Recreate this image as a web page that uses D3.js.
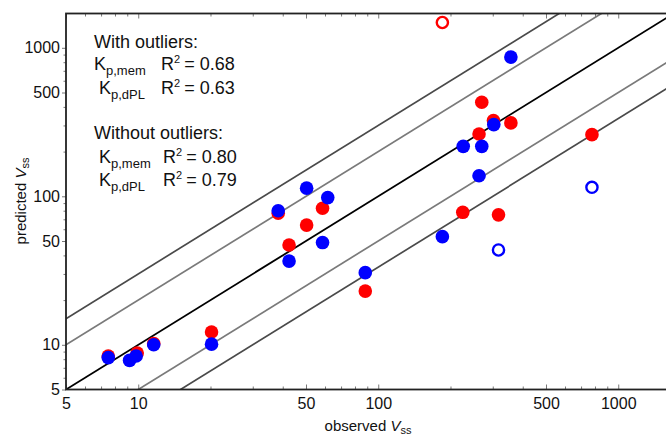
<!DOCTYPE html>
<html><head><meta charset="utf-8">
<script src="https://cdn.jsdelivr.net/npm/d3@7"></script>
<style>
body{margin:0;background:#fff}
svg{display:block}
text{font-family:"Liberation Sans",Arial,Helvetica,sans-serif;fill:#111}
</style>
</head><body>
<svg id="chart" width="666" height="437"></svg>
<script>
// ---- data ----
// Kp,mem predictions (red)
const memObserved  = [7.5, 9.9, 11.6, 20.2, 38.3, 42.5, 50.3, 58.6, 88.3, 185, 225, 263, 270, 302, 317, 357, 777];
const memPredicted = [8.4, 8.8, 10.2, 12.2, 77, 47, 64, 83, 23, 1480, 78, 263, 430, 324, 75, 312, 260];
const memOutlier   = [0,0,0,0,0,0,0,0,0,1,0,0,0,0,0,0,0];
// Kp,dPL predictions (blue)
const dplObserved  = [7.5, 9.2, 9.8, 11.6, 20.2, 38.3, 42.5, 50.3, 58.6, 61.6, 88.3, 185, 226, 263, 270, 303, 317, 357, 777];
const dplPredicted = [8.2, 7.85, 8.4, 10.0, 10.1, 80, 36.6, 113.5, 48.8, 98, 30.6, 53.5, 217, 137.5, 217, 304, 43.5, 866, 115];
const dplOutlier   = [0,0,0,0,0,0,0,0,0,0,0,0,0,0,0,0,1,0,1];
// reference lines: predicted = k * observed
const foldFactors = [3, 2, 1, 1/2, 1/3];
const axisDomain = [5, 1700];
const majorTicks = [5, 10, 50, 100, 500, 1000];
const annotationHeads = ["With outliers:", "Without outliers:"];
const annotationModels = ["p,mem", "p,dPL"];
const r2With = ["0.68", "0.63"];
const r2Without = ["0.80", "0.79"];

// ---- layout ----
const svg = d3.select("#chart");
const L = 66, T = 13.5, B = 389.5;
const xDec = 240, yDec = 148.5;
const span = Math.log10(axisDomain[1] / axisDomain[0]);
const R = L + xDec * span;

const x = d3.scaleLog().domain(axisDomain).range([L, R]);
const y = d3.scaleLog().domain(axisDomain).range([B, B - yDec * span]);

svg.append("defs").append("clipPath").attr("id", "clip")
  .append("rect").attr("x", L).attr("y", T).attr("width", R - L).attr("height", B - T);

// reference lines
const lineColor = k => k === 1 ? "#000" : (Math.abs(k - 2) < 1e-9 || Math.abs(k - 0.5) < 1e-9 ? "#7a7a7a" : "#4a4a4a");
const g = svg.append("g").attr("clip-path", "url(#clip)");
foldFactors.forEach(k => {
  g.append("line")
    .attr("x1", x(axisDomain[0] / 10)).attr("y1", y(k * axisDomain[0] / 10))
    .attr("x2", x(axisDomain[1] * 10)).attr("y2", y(k * axisDomain[1] * 10))
    .attr("stroke", lineColor(k)).attr("stroke-width", k === 1 ? 1.8 : 1.7);
});

// points
const mem = memObserved.map((o, i) => ({o, p: memPredicted[i], out: memOutlier[i]}));
const dpl = dplObserved.map((o, i) => ({o, p: dplPredicted[i], out: dplOutlier[i]}));
function drawSeries(data, color) {
  g.selectAll(null).data(data).enter().append("circle")
    .attr("cx", d => x(d.o)).attr("cy", d => y(d.p))
    .attr("r", d => d.out ? 5.6 : 6.8)
    .attr("fill", d => d.out ? "#fff" : color)
    .attr("stroke", d => d.out ? color : "none")
    .attr("stroke-width", d => d.out ? 2.4 : 0);
}
drawSeries(mem, "#ff0000");
drawSeries(dpl, "#0000ff");

// axes
const allTicks = x.ticks();
const fmt = d => majorTicks.includes(d) ? d : "";
const axB = svg.append("g").attr("transform", `translate(0,${B})`)
  .call(d3.axisBottom(x).tickValues(allTicks).tickFormat(fmt).tickSize(0).tickPadding(8));
axB.selectAll(".tick line").attr("y2", d => majorTicks.includes(d) ? -5 : -3);
const axT = svg.append("g").attr("transform", `translate(0,${T})`)
  .call(d3.axisTop(x).tickValues(allTicks).tickFormat("").tickSize(0));
axT.selectAll(".tick line").attr("y2", d => majorTicks.includes(d) ? 5 : 3);
const axL = svg.append("g").attr("transform", `translate(${L},0)`)
  .call(d3.axisLeft(y).tickValues(y.ticks()).tickFormat(fmt).tickSize(0).tickPadding(6));
axL.selectAll(".tick line").attr("x2", d => majorTicks.includes(d) ? -4 : -2.5);
[axB, axT, axL].forEach(a => {
  a.select(".domain").remove();
  a.selectAll(".tick line").attr("stroke", "#555").attr("stroke-width", 0.8);
  a.selectAll("text").attr("font-size", 16).attr("fill", "#111")
    .attr("font-family", '"Liberation Sans",Arial,sans-serif');
});

// frame
svg.append("rect").attr("x", L).attr("y", T).attr("width", R - L).attr("height", B - T)
  .attr("fill", "none").attr("stroke", "#222").attr("stroke-width", 1.8);

// axis titles
const xt = svg.append("text").attr("x", 368).attr("y", 431).attr("text-anchor", "middle").attr("font-size", 15);
xt.append("tspan").text("observed ");
xt.append("tspan").attr("font-style", "italic").text("V");
xt.append("tspan").attr("font-size", 11).attr("dy", 2.5).text("ss");

const yt = svg.append("text").attr("transform", "translate(26,201) rotate(-90)").attr("text-anchor", "middle").attr("font-size", 15);
yt.append("tspan").text("predicted ");
yt.append("tspan").attr("font-style", "italic").text("V");
yt.append("tspan").attr("font-size", 11).attr("dy", 3).text("ss");

// annotation
const ann = svg.append("g");
function head(txt, yb) {
  ann.append("text").attr("x", 94).attr("y", yb).attr("font-size", 18).text(txt);
}
function row(model, r2, xk, xr, yb) {
  const t = ann.append("text").attr("x", xk).attr("y", yb).attr("font-size", 18);
  t.append("tspan").text("K");
  t.append("tspan").attr("font-size", 13).attr("dy", 5).text(model);
  const r = ann.append("text").attr("x", xr).attr("y", yb).attr("font-size", 18);
  r.append("tspan").text("R");
  r.append("tspan").attr("font-size", 11).attr("dy", -7).text("2");
  r.append("tspan").attr("dy", 7).attr("dx", 4).text("= " + r2);
}
head(annotationHeads[0], 47.5);
row(annotationModels[0], r2With[0], 94, 161, 69.5);
row(annotationModels[1], r2With[1], 99, 161, 93.5);
head(annotationHeads[1], 138.5);
row(annotationModels[0], r2Without[0], 99, 163, 162.5);
row(annotationModels[1], r2Without[1], 99, 163, 185.5);
</script>
</body></html>
